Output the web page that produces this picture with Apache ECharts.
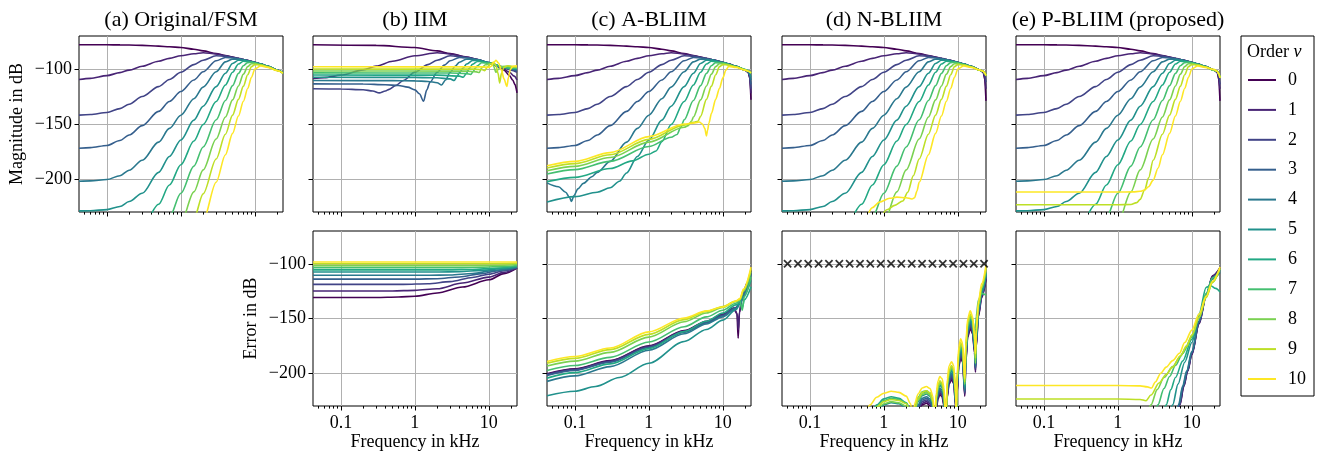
<!DOCTYPE html>
<html><head><meta charset="utf-8">
<script src="https://cdn.jsdelivr.net/npm/echarts@6/dist/echarts.min.js"></script>
<style>html,body{margin:0;padding:0;background:#fff}#c{width:1323px;height:457px}</style>
</head><body><div id="c"></div><script>
// ---------------- DATA ----------------
const ORDERS = ['0','1','2','3','4','5','6','7','8','9','10'];
const COLORS = ['#440154','#482475','#414487','#355f8d','#2a788e','#21918c','#22a884','#44bf70','#7ad151','#bddf26','#fde725'];
const PANEL_TITLES = ['(a) Original/FSM','(b) IIM','(c) A-BLIIM','(d) N-BLIIM','(e) P-BLIIM (proposed)'];
const X_TICKS = [0.1, 1, 10];
const X_TICK_LABELS = ['0.1','1','10'];
const X_MINOR = [0.05,0.06,0.07,0.08,0.09,0.2,0.3,0.4,0.5,0.6,0.7,0.8,0.9,2,3,4,5,6,7,8,9,20];
const Y_TICKS = [-200,-150,-100];
const Y_TICK_LABELS = ['\u2212200','\u2212150','\u2212100'];

// (a) Original / FSM magnitude, on a common frequency grid (kHz)
const F_A = [0.042,0.06,0.1,0.15,0.2,0.3,0.5,0.7,1,1.5,2,3,4,5,6,7,8,9,10,12,15,20,24];
const ORIG_MAG = [
 [-78,-78,-78,-78.1,-78.2,-78.5,-79.2,-79.8,-80.5,-82,-83.5,-86,-87.8,-89.2,-90.3,-91.3,-92.2,-93.1,-94,-95.5,-97.5,-101,-103.6],
 [-109.6,-108.5,-106,-103.3,-101,-97.5,-93,-90.3,-88,-86.2,-85.2,-86.3,-87.9,-89.3,-90.4,-91.4,-92.3,-93.2,-94.1,-95.6,-97.6,-101.1,-103.6],
 [-141.9,-141.3,-139.5,-136,-132,-125,-116,-109.5,-103,-96,-92,-88,-88.3,-89.5,-90.5,-91.5,-92.4,-93.3,-94.1,-95.6,-97.6,-101.1,-103.6],
 [-172,-171.5,-169.5,-165,-160,-151.5,-138.5,-129.5,-120.5,-110,-102.5,-92.5,-89.5,-89.8,-90.6,-91.5,-92.4,-93.3,-94.1,-95.6,-97.6,-101.1,-103.6],
 [-202,-201.7,-200.5,-197,-192,-183,-166.5,-154,-142,-127,-116.5,-102.5,-93.5,-91,-91,-91.7,-92.5,-93.4,-94.1,-95.6,-97.6,-101.1,-103.6],
 [-229,-228.8,-227.8,-225,-220.5,-213,-194,-179.5,-164.5,-146.5,-133.8,-116,-103.8,-95,-92,-92,-92.7,-93.5,-94.2,-95.7,-97.6,-101.1,-103.6],
 [null,null,-257,-254,-250,-244,-223,-205.5,-187,-165.5,-150.5,-129.5,-114.5,-103,-95.5,-93,-93.2,-93.7,-94.4,-95.8,-97.7,-101.1,-103.6],
 [null,null,null,null,null,null,-255,-234.7,-213,-188.3,-170.9,-146.2,-128.7,-115.1,-104,-97,-94.2,-94,-94.6,-96,-97.8,-101.2,-103.6],
 [null,null,null,null,null,null,null,-264.7,-239.9,-211.7,-191.7,-163.6,-143.6,-128.1,-115.4,-104.7,-97.8,-95.2,-95,-96.3,-98,-101.3,-103.6],
 [null,null,null,null,null,null,null,null,-267.7,-236,-213.5,-181.8,-159.3,-141.9,-127.6,-115.6,-105.2,-97.8,-96,-96.4,-98.2,-101.4,-103.6],
 [null,null,null,null,null,null,null,null,null,-263,-238.1,-202.9,-177.9,-158.5,-142.7,-129.3,-117.7,-107.5,-100,-97.2,-98.5,-101.5,-103.7]
];

// (b) IIM magnitude [kHz, dB]
const IIM_MAG = [
 [[0.042,-78],[0.3,-78.5],[1,-80.5],[2,-83.5],[3,-86],[5,-89.2],[7,-91.3],[10,-94.5],[13,-97.2],[16,-101],[19,-106],[21,-110],[22.5,-114],[24,-121.7]],
 [[0.042,-108.7],[0.06,-107.8],[0.1,-105.6],[0.2,-100.8],[0.3,-97.4],[0.5,-93],[1,-88],[2,-85.2],[3,-86.3],[5,-89.3],[7,-91.4],[10,-94.3],[15,-99],[19,-103],[22,-106.5],[24,-110]],
 [[0.042,-118],[0.1,-118.2],[0.2,-118.8],[0.27,-120],[0.33,-121.7],[0.4,-120],[0.45,-118.5],[0.55,-115],[0.7,-110.5],[1,-102.8],[1.5,-96],[2,-92],[3,-88],[5,-89.5],[7,-91.5],[10,-94.2],[15,-98],[20,-101],[24,-103]],
 [[0.042,-113.5],[0.2,-113.6],[0.4,-114.3],[0.6,-115],[0.8,-116.5],[1,-119],[1.15,-122.5],[1.31,-129.2],[1.45,-119],[1.6,-112],[2,-103],[2.5,-96.5],[3,-92.5],[4,-89.5],[5,-89.8],[7,-91.5],[10,-94.2],[15,-98],[20,-100.5],[24,-101.5]],
 [[0.042,-110.5],[0.5,-110.6],[1,-110.8],[1.5,-111.3],[2,-112.5],[2.3,-114.5],[2.6,-110],[3,-103],[3.5,-97.5],[4,-93.8],[5,-91],[6,-91],[7,-91.7],[10,-94.2],[15,-98],[20,-100],[24,-100.5]],
 [[0.042,-107.5],[1,-107.6],[2,-108],[3,-109],[3.4,-110.5],[3.7,-107],[4,-103.5],[4.5,-99],[5,-95.5],[6,-92.3],[7,-92],[10,-94.3],[15,-98],[20,-99.5],[24,-100]],
 [[0.042,-105.5],[2,-105.6],[4,-106.5],[4.5,-107.5],[4.9,-104.5],[5.5,-99],[6,-95.7],[7,-93.2],[8,-93.3],[10,-94.5],[15,-98],[20,-99.2],[24,-99.5]],
 [[0.042,-103.5],[3,-103.6],[5,-104.2],[5.7,-105],[6.1,-102.5],[6.6,-99],[7,-97.2],[8,-94.3],[10,-94.7],[12,-96],[15,-98],[20,-99],[24,-99]],
 [[0.042,-101.8],[5,-101.9],[6.8,-102.6],[7.4,-103.2],[8,-99],[9,-96.2],[10.5,-95.3],[11.5,-97],[12.5,-103],[13.5,-100],[15,-97.8],[18,-97.5],[21,-98.3],[24,-98.5]],
 [[0.042,-100],[6,-100.1],[8,-100.5],[8.8,-101.5],[9.6,-98],[10.5,-95.2],[11.5,-94],[12.5,-97],[13.3,-104],[14,-112.7],[14.8,-104],[16,-98.5],[18,-97],[21,-97.8],[24,-98.2]],
 [[0.042,-98],[8,-98.1],[10,-98.5],[10.8,-97.5],[11.6,-94],[12.5,-92.2],[13.5,-94.5],[14.8,-101],[16,-109],[17.5,-115.8],[18.5,-107],[19.5,-100.5],[21,-97.5],[24,-97.2]]
];
// (b) IIM error
const IIM_ERR = [
 [[0.042,-130.8],[0.3,-130.8],[0.6,-130.3],[1,-129.7],[2,-126.7],[4.4,-121.2],[10,-114.6],[16,-109],[24,-104]],
 [[0.042,-124.8],[0.5,-124.8],[1,-124.3],[2,-122.8],[4.4,-117.6],[10,-112.2],[16,-107.8],[24,-103.7]],
 [[0.042,-118.8],[0.7,-118.8],[1.5,-118.2],[3,-116.3],[6,-112.5],[10,-109.5],[16,-106.3],[24,-103.5]],
 [[0.042,-114],[1,-114],[2,-113.6],[4,-112],[8,-109],[14,-106],[24,-103.3]],
 [[0.042,-110.5],[1.5,-110.5],[3,-110.2],[6,-108.8],[12,-106],[24,-103]],
 [[0.042,-107.5],[2,-107.5],[4,-107.2],[8,-106],[16,-104.2],[24,-102.7]],
 [[0.042,-105.5],[3,-105.5],[6,-105.2],[12,-104],[24,-102.2]],
 [[0.042,-103.5],[4,-103.5],[8,-103.2],[16,-102.3],[24,-101.5]],
 [[0.042,-101.8],[6,-101.8],[12,-101.5],[24,-100.6]],
 [[0.042,-100],[8,-100],[16,-99.8],[24,-99.4]],
 [[0.042,-98.3],[24,-98.3]]
];

// (c) A-BLIIM: orders 0-3 follow the original up to 20 kHz, then these tails
const ABLIIM_TAIL = [
 [[22,-103],[23,-108],[24,-128]],
 [[22,-103],[23,-107],[24,-122]],
 [[22,-102.5],[23,-106],[24,-118]],
 [[22,-102.5],[23,-105.5],[24,-114]]
];
const ABLIIM_MAG_HI = [
 [[0.042,-203.5],[0.06,-207],[0.075,-212],[0.085,-217],[0.09,-220.5],[0.097,-215],[0.11,-209],[0.13,-204],[0.17,-198],[0.2,-194],[0.3,-184],[0.5,-166.5],[0.7,-154],[1,-142],[1.5,-127],[2,-116.5],[3,-102.5],[4,-93.5],[5,-91],[7,-91.7],[10,-94.1],[15,-97.6],[20,-100.8],[22,-102],[23,-104],[24,-110]],
 [[0.042,-221],[0.1,-216],[0.2,-212],[0.3,-208],[0.4,-202],[0.5,-194.5],[0.7,-179.5],[1,-164.5],[1.5,-146.5],[2,-133.8],[3,-116],[4,-103.8],[5,-95],[6,-92],[7,-92],[10,-94.2],[15,-97.6],[20,-100.8],[22,-102],[24,-107]],
 [[0.042,-202.4],[0.1,-198.5],[0.3,-190.5],[0.6,-183.5],[1,-177.5],[1.25,-174.5],[1.5,-166],[2,-150.5],[3,-129.5],[4,-114.5],[5,-103],[6,-95.5],[7,-93],[10,-94.4],[15,-97.7],[20,-100.5],[22,-101.5],[24,-104]],
 [[0.042,-195.5],[0.1,-191.5],[0.3,-184],[1,-170.5],[2,-162],[2.4,-159.5],[2.7,-153],[3,-146.2],[4,-128.7],[5,-115.1],[6,-104],[7,-97],[8,-94.2],[10,-94.6],[15,-97.8],[20,-100.5],[22,-101.5],[24,-103.5]],
 [[0.042,-192.5],[0.1,-188.5],[0.3,-180.5],[1,-166.5],[3,-153],[3.4,-151.5],[3.8,-147],[4,-143.6],[5,-128.1],[6,-115.4],[7,-104.7],[8,-97.8],[9,-95.2],[10,-95],[15,-98],[20,-100.8],[22,-101.8],[24,-103.5]],
 [[0.042,-190],[0.1,-186],[0.3,-178],[1,-164],[3,-151],[4,-148.5],[4.6,-147.5],[5,-143],[6,-127.6],[7,-115.6],[8,-105.2],[9,-97.8],[10,-96],[12,-96.4],[15,-98.2],[20,-101],[22,-102],[24,-103.5]],
 [[0.042,-188],[0.1,-184],[0.3,-176],[1,-161.5],[3,-150],[4.2,-149],[4.8,-148.2],[5.3,-150],[5.7,-154],[6,-160.8],[6.2,-156],[6.5,-148.8],[7,-140.5],[8,-127.5],[9,-117.5],[10,-108],[11,-101],[12,-97.6],[15,-98.5],[20,-101],[22,-102],[24,-103.5]]
];
const ABLIIM_ERR = [
 [[0.042,-200.5],[0.1,-196],[0.3,-188.5],[1,-175],[3,-161],[6,-152.5],[10,-146],[14,-140.5],[15.5,-145],[16.1,-168],[16.7,-145],[18,-133],[21,-118],[24,-106]],
 [[0.042,-201],[0.1,-196.5],[0.3,-189],[1,-175.5],[3,-161.5],[6,-153],[10,-146.5],[14,-141],[15.6,-146],[16.2,-160],[16.8,-144],[18,-133.5],[21,-119],[24,-107]],
 [[0.042,-201.5],[0.1,-197],[0.3,-189.5],[1,-176],[3,-162],[6,-153.5],[10,-147],[15,-140],[17,-135],[19,-127],[24,-108]],
 [[0.042,-202],[0.1,-197.5],[0.3,-190],[1,-176.5],[3,-162.5],[6,-154],[10,-147.5],[15,-140.5],[17,-135],[19,-127],[24,-108.5]],
 [[0.042,-207.5],[0.1,-202.5],[0.3,-194],[1,-179],[3,-164],[6,-155],[10,-148.5],[15,-141],[17,-136],[19,-128],[24,-110]],
 [[0.042,-220.6],[0.1,-216.5],[0.19,-212.2],[0.4,-204],[1,-190.9],[3,-171],[6,-160],[10,-151.5],[15,-142],[17,-137],[19,-130],[24,-115]],
 [[0.042,-204.5],[0.1,-199.5],[0.3,-191.5],[1,-177.5],[3,-162],[6,-152.5],[10,-145],[15,-137.5],[17,-136],[18.3,-140],[19.5,-133],[24,-121]],
 [[0.042,-197.5],[0.1,-193],[0.3,-185.5],[1,-171.5],[3,-157.5],[6,-148.5],[10,-142.5],[15,-136],[17,-134],[18.3,-142.5],[19.5,-130],[24,-112]],
 [[0.042,-193.5],[0.1,-189],[0.3,-181],[1,-167],[3,-153],[6,-145],[10,-140],[15,-134.5],[17,-133],[19,-125],[24,-107]],
 [[0.042,-191],[0.1,-186.5],[0.3,-178.5],[1,-164.5],[3,-151],[6,-143.5],[10,-139],[15,-134],[17,-132.5],[19,-124],[24,-105]],
 [[0.042,-189.4],[0.1,-184.8],[0.3,-177],[1,-162.2],[3,-149.5],[6,-143],[10,-139.5],[15,-134],[17,-131.8],[19,-123],[24,-103]]
];

// (d) N-BLIIM: orders 0-8 follow the original up to 20 kHz, then these tails
const NBLIIM_TAIL = [
 [[22,-103],[23,-109],[24,-129]],
 [[22,-103],[23,-107],[24,-118]],
 [[22,-102.5],[23,-105],[24,-112]],
 [[22,-102],[23,-103.5],[24,-106]],
 [[22,-102],[23,-103.5],[24,-106]],
 [[22,-102],[23,-103.5],[24,-106]],
 [[22,-102],[23,-103.5],[24,-106]],
 [[22,-102],[23,-103.5],[24,-106]],
 [[22,-102],[23,-103.5],[24,-106]]
];
const NBLIIM_MAG_HI = [
 [[0.9,-236],[1.1,-228],[1.4,-224],[1.8,-220],[2.1,-212],[2.5,-197],[3,-181.8],[4,-159.3],[5,-141.9],[6,-127.6],[7,-115.6],[8,-105.2],[9,-97.8],[10,-96],[12,-96.4],[15,-98.2],[20,-101],[22,-102],[23,-103.5],[24,-106]],
 [[0.58,-236],[0.7,-226],[0.87,-221],[1.2,-217.5],[1.5,-216.5],[2,-217],[2.4,-218.2],[2.6,-217],[2.8,-211],[3,-203],[4,-177.9],[5,-158.5],[6,-142.7],[7,-129.3],[8,-117.7],[9,-107.5],[10,-100],[12,-97.2],[15,-98.5],[20,-101],[22,-102],[23,-103.5],[24,-106]]
];
const F_D = [0.55,0.65,0.8,1,1.26,1.6,2,2.3,2.47,2.6,2.9,3.3,3.76,4.2,4.6,4.86,5.1,5.4,5.7,6.1,6.5,6.85,7.2,7.6,8.2,8.8,9.3,9.5,9.8,10.3,10.9,11.6,12.4,12.8,13.6,14.7,15.8,16.8,17.3,17.7,19,21,24];
const NBLIIM_ERR = [
 [-267,-257,-247,-241,-239,-240,-244,-252,-267,-246,-235,-229,-227.5,-229.5,-236.5,-267,-233.5,-223.5,-219.5,-221.5,-230,-267,-222,-210,-206,-209.5,-230,-251,-218,-194,-186,-190,-221,-190,-167,-159,-164,-181,-199,-176,-148,-131,-114],
 [-265.5,-255.5,-245.5,-239.5,-237.5,-238.5,-242.5,-250.5,-265.5,-244.5,-233.5,-227.5,-226,-228,-235,-265.5,-232,-222,-218,-220,-228.5,-265.5,-220.5,-208.5,-204.5,-208,-228.5,-249.5,-216.5,-192.5,-184.5,-188.5,-219.5,-188.5,-165.5,-157.5,-162.5,-179.5,-197.5,-174.5,-146.5,-130,-113],
 [-264,-254,-244,-238,-236,-237,-241,-249,-264,-243,-232,-226,-224.5,-226.5,-233.5,-264,-230.5,-220.5,-216.5,-218.5,-227,-264,-219,-207,-203,-206.5,-227,-248,-215,-191,-183,-187,-218,-187,-164,-156,-161,-178,-196,-173,-145,-129,-112],
 [-262,-252,-242,-236,-234,-235,-239,-247,-262,-242,-230.5,-224.5,-223,-225,-232,-262,-229,-219,-215,-217,-225.5,-262,-217.5,-205.5,-201.5,-205,-225.5,-246,-213.5,-189.5,-181.5,-185.5,-217,-185.5,-162.5,-154.5,-159.5,-177,-195,-172,-144,-128,-111],
 [-260,-250,-240,-234,-232,-233,-237,-245,-260,-240,-229,-223,-221.5,-223.5,-231,-260,-228,-217.5,-213.5,-215.5,-224,-260,-216,-204,-200,-203.5,-224,-244,-212,-188,-180,-184,-216,-184,-161,-153,-158,-176,-194,-171,-143,-127,-110],
 [-255,-245,-235,-229,-227,-228,-232,-240,-255,-236,-226,-220.5,-219,-221,-228,-255,-225,-215,-211,-213,-221,-255,-214,-202,-198,-201.5,-222,-242,-210,-186,-178,-182,-214,-182,-159,-151,-156,-174,-192,-169,-141,-125,-109],
 [-250,-238,-229,-223.5,-221.5,-223,-227,-235,-250,-234,-223,-218,-217,-219,-226,-250,-223,-213,-209.5,-211.5,-219,-250,-212,-200.5,-196.5,-200,-221,-240,-208,-184,-176.5,-180,-212,-180,-157,-149.5,-154,-172,-190,-167,-140,-124,-108],
 [-252,-240,-230,-225,-223,-224,-227,-234,-250,-233,-222,-217,-216,-218,-225,-250,-222,-212,-208.5,-210,-218,-250,-211,-199,-195,-198,-219,-240,-207,-183,-175,-179,-210,-180,-157,-149,-151,-160,-164,-148,-133,-127,-128.5],
 [-252,-242,-233,-228,-226,-227,-230,-237,-250,-235,-225,-219.5,-218,-220,-227,-250,-224,-213,-209,-211,-219,-250,-211,-199.5,-195,-198.5,-220,-240,-206,-182,-173.5,-177,-210,-178,-155,-147.5,-152,-170,-191,-165,-138,-122,-105],
 [-250,-240,-231,-226,-224,-225,-228,-235,-250,-233,-223,-217.5,-216,-218,-225,-250,-222,-211,-207,-209,-217,-250,-209,-197.5,-193,-196.5,-218,-240,-204,-180,-172,-176,-208,-176,-153,-146,-150.5,-167,-186,-163,-137,-121,-104],
 [-240,-229,-222,-218.3,-216.5,-217.5,-221,-228,-245,-228,-219,-213.5,-212.2,-214,-221,-245,-218,-207,-203.1,-205,-213,-245,-205,-193.5,-189.5,-193,-215,-235,-200,-176,-168.5,-173,-205,-172,-150,-143,-148,-165,-182,-160,-134,-118,-101.5]
];
const MARK_F = [0.05,0.069,0.095,0.131,0.181,0.25,0.345,0.476,0.656,0.906,1.25,1.72,2.38,3.28,4.53,6.25,8.62,11.9,16.4,22.6];
const MARK_V = [-100,-100,-100,-100,-100,-100,-100,-100,-100,-100,-100,-100,-100,-100,-100,-100,-100,-100,-100,-100];

// (e) P-BLIIM: orders 0-8 follow the original up to 20 kHz, then these tails
const PBLIIM_TAIL = [
 [[22,-103],[23,-109],[24,-129]],
 [[22,-103],[23,-107],[24,-118]],
 [[22,-102.5],[23,-105],[24,-114]],
 [[22,-102],[23,-104],[24,-108]],
 [[22,-102],[23,-104],[24,-108]],
 [[22,-102],[23,-104],[24,-108]],
 [[22,-102],[23,-104],[24,-108]],
 [[22,-102],[23,-104],[24,-108]],
 [[22,-102],[23,-104],[24,-108]]
];
const PBLIIM_MAG_HI = [
 [[0.042,-223.4],[1,-223.4],[1.5,-223.2],[1.8,-221.5],[2,-218.5],[2.3,-210],[2.6,-199],[3,-183],[4,-159.3],[5,-141.9],[6,-127.6],[7,-115.6],[8,-105.2],[9,-97.8],[10,-96],[12,-96.4],[15,-98.2],[20,-100.5],[22,-102],[23,-104],[24,-108]],
 [[0.042,-211.8],[1,-211.8],[1.6,-211.7],[2,-211.2],[2.3,-210],[2.6,-207],[3,-201],[3.5,-190],[4,-178],[5,-158.5],[6,-142.7],[7,-129.3],[8,-117.7],[9,-107.5],[10,-100],[12,-97.2],[15,-98.5],[20,-100.5],[22,-102],[23,-104],[24,-108]]
];
const PBLIIM_ERR = [
 [[6.3,-240],[6.9,-229],[7.8,-212],[8.8,-198],[10,-183],[12.5,-155],[15.6,-130],[19,-111],[24,-103.5]],
 [[6.25,-240],[6.85,-229],[7.75,-212],[8.75,-198],[10,-182.5],[12.5,-154.5],[15.6,-129.5],[19,-111.5],[24,-104]],
 [[6.2,-240],[6.8,-229],[7.7,-212],[8.7,-198],[10,-182],[12.5,-154],[15.6,-129],[19,-112],[24,-105]],
 [[6.1,-240],[6.7,-229],[7.6,-212],[8.6,-198],[10,-181],[12.5,-153],[15.6,-129],[19,-113],[24,-106]],
 [[6,-240],[6.6,-229],[7.5,-212],[8.5,-198],[10,-180],[12.5,-152],[15.6,-128],[19,-114],[24,-108]],
 [[4.9,-240],[5.5,-229],[6.5,-210],[8,-190],[10,-172],[12.5,-148],[15.6,-128],[19,-113],[24,-107]],
 [[4,-240],[4.5,-229],[5.2,-215],[6,-204],[7.5,-189],[10,-169],[12.5,-146],[15.6,-121.5],[18,-120],[21,-122.5],[24,-125.8]],
 [[3.05,-240],[3.47,-229],[4.2,-214],[5,-203],[6,-193],[7.5,-182],[10,-167],[12.5,-149],[15.6,-127],[19,-113],[24,-106]],
 [[2.45,-240],[2.8,-229],[3.4,-215],[4.2,-204],[5.5,-194],[7,-184.5],[8.5,-176],[10,-166],[12.5,-149],[15.6,-130],[19,-117],[24,-104.5]],
 [[0.042,-223.6],[1,-223.6],[2,-224],[2.4,-225.2],[2.8,-220],[3.6,-209],[4.5,-201],[5.5,-194.5],[7,-184],[8.5,-175],[10,-165],[12.5,-149],[15.6,-131],[19,-117],[24,-104]],
 [[0.042,-211.3],[1,-211.3],[2,-211.6],[2.5,-212.5],[2.85,-213.6],[3.2,-208],[3.8,-200],[4.5,-194.5],[5.5,-188.5],[6.8,-181.8],[8,-172],[10,-160.6],[12.5,-146],[15.6,-129.5],[19,-116],[24,-103]]
];

// ---------------- BUILD ----------------
const FONT = "'Liberation Serif', 'DejaVu Serif', serif";
function zip(xs, ys) { const out = []; for (let i = 0; i < xs.length; i++) if (ys[i] !== null) out.push([xs[i], ys[i]]); return out; }
function origUpTo20(n) { return zip(F_A, ORIG_MAG[n]).filter(p => p[0] <= 20); }

const GRIDS = [
 {left:79, top:36, width:204, height:176},
 {left:313, top:36, width:204, height:176},
 {left:547, top:36, width:204, height:176},
 {left:782, top:36, width:204, height:176},
 {left:1016, top:36, width:204, height:176},
 {left:313, top:231, width:204, height:175},
 {left:547, top:231, width:204, height:175},
 {left:782, top:231, width:204, height:175},
 {left:1016, top:231, width:204, height:175}
];
const grid = GRIDS.map(g => Object.assign({show:true, borderColor:'#000', borderWidth:1, backgroundColor:'transparent'}, g));
const xAxis = [], yAxis = [];
const tickLine = {color:'#000', width:1};
const gridLine = {color:'#b0b0b0', width:1};
GRIDS.forEach((g, i) => {
  const bottomRow = i >= 5;
  xAxis.push({
    type:'log', logBase:10, gridIndex:i, min:0.042, max:24, position:'bottom',
    axisLine:{show:false},
    axisTick:{show:true, customValues:X_TICKS, length:4.5, inside:false, lineStyle:tickLine},
    axisLabel:{show:bottomRow, customValues:X_TICKS, margin:8, fontFamily:FONT, fontSize:18, color:'#000',
      formatter: v => { const k = X_TICKS.findIndex(t => Math.abs(t - v) < 1e-9); return k >= 0 ? X_TICK_LABELS[k] : ''; }},
    splitLine:{show:true, lineStyle:gridLine},
    name: bottomRow ? 'Frequency in kHz' : '', nameLocation:'middle', nameGap:27,
    nameTextStyle:{fontFamily:FONT, fontSize:18, color:'#000'}
  });
  xAxis.push({
    type:'log', logBase:10, gridIndex:i, min:0.042, max:24, position:'bottom',
    axisLine:{show:false},
    axisTick:{show:true, customValues:X_MINOR, length:2.6, lineStyle:tickLine},
    axisLabel:{show:false}, splitLine:{show:false}
  });
  const showY = (i === 0 || i === 5);
  yAxis.push({
    type:'value', gridIndex:i, min:-230, max:-70,
    axisLine:{show:false},
    axisTick:{show:true, customValues:Y_TICKS, length:4.5, lineStyle:tickLine},
    axisLabel:{show:showY, customValues:Y_TICKS, margin:7, fontFamily:FONT, fontSize:18, color:'#000',
      formatter: v => { const k = Y_TICKS.indexOf(v); return k >= 0 ? Y_TICK_LABELS[k] : ''; }},
    splitLine:{show:true, lineStyle:gridLine},
    name: i === 0 ? 'Magnitude in dB' : (i === 5 ? 'Error in dB' : ''),
    nameLocation:'middle', nameGap:53, nameRotate:90,
    nameTextStyle:{fontFamily:FONT, fontSize:18, color:'#000'}
  });
});

const series = [];
function addLine(gi, n, data) {
  series.push({
    type:'line', name:ORDERS[n], xAxisIndex:2*gi, yAxisIndex:gi, data:data,
    symbol:'none', showSymbol:false, smooth:0.3, smoothMonotone:'x', clip:true, silent:true,
    lineStyle:{width:1.6, color:COLORS[n]}, itemStyle:{color:COLORS[n]}, z:2 + n*0.01
  });
}
for (let n = 0; n <= 10; n++) {
  addLine(0, n, zip(F_A, ORIG_MAG[n]));
  addLine(1, n, IIM_MAG[n]);
  addLine(2, n, n <= 3 ? origUpTo20(n).concat(ABLIIM_TAIL[n]) : ABLIIM_MAG_HI[n - 4]);
  addLine(3, n, n <= 8 ? origUpTo20(n).concat(NBLIIM_TAIL[n]) : NBLIIM_MAG_HI[n - 9]);
  addLine(4, n, n <= 8 ? origUpTo20(n).concat(PBLIIM_TAIL[n]) : PBLIIM_MAG_HI[n - 9]);
  addLine(5, n, IIM_ERR[n]);
  addLine(6, n, ABLIIM_ERR[n]);
  addLine(7, n, zip(F_D, NBLIIM_ERR[n]));
  addLine(8, n, PBLIIM_ERR[n]);
}
series.push({
  type:'scatter', name:'marks', xAxisIndex:14, yAxisIndex:7, data: zip(MARK_F, MARK_V),
  symbol:'path://M0,1.5L1.5,0L5,3.5L8.5,0L10,1.5L6.5,5L10,8.5L8.5,10L5,6.5L1.5,10L0,8.5L3.5,5Z', symbolSize:8.5,
  itemStyle:{color:'#000'}, silent:true, z:5, clip:false
});

const titles = PANEL_TITLES.map((t, i) => ({
  text:t, left: GRIDS[i].left + GRIDS[i].width/2, textAlign:'center', top:9, padding:0,
  textStyle:{fontFamily:FONT, fontSize:22, fontWeight:'normal', color:'#000'}
}));
titles.push({
  text:'Order {i|\u03bd}', left:1247, top:43, padding:0,
  textStyle:{fontFamily:FONT, fontSize:18, fontWeight:'normal', color:'#000',
    rich:{i:{fontFamily:FONT, fontSize:18, fontStyle:'italic', color:'#000'}}}
});

const option = {
  animation:false, backgroundColor:'#fff',
  title: titles,
  legend: {
    orient:'vertical', left:1241, top:36, padding:[35, 8, 8, 6],
    itemWidth:28, itemHeight:14, itemGap:11.9, selectedMode:false,
    borderColor:'#000', borderWidth:1, borderRadius:0,
    itemStyle:{opacity:0},
    lineStyle:{width:2},
    textStyle:{fontFamily:FONT, fontSize:18, color:'#000', padding:[0,0,0,7]},
    data: ORDERS
  },
  grid: grid, xAxis: xAxis, yAxis: yAxis, series: series
};
const chart = echarts.init(document.getElementById('c'), null, {renderer:'canvas'});
chart.setOption(option);
</script></body></html>
